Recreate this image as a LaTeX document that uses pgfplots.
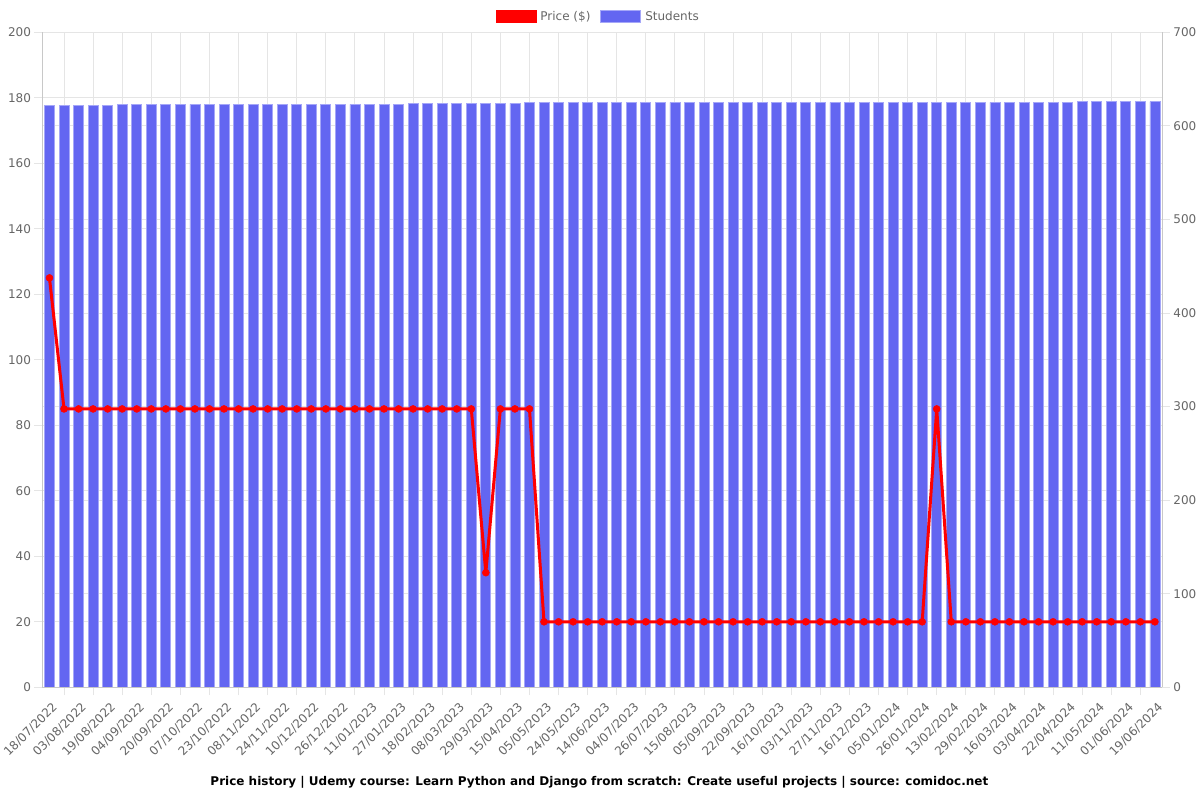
\documentclass[border=0pt]{standalone}
\usepackage{pgfplots}
\usepackage{pgfplotstable}
\pgfplotsset{compat=1.18}
\usepackage{fontspec}
\setmainfont{DejaVu Sans}
\definecolor{barblue}{RGB}{99,102,241}
\definecolor{barborder}{RGB}{165,167,248}
\definecolor{gridgray}{RGB}{229,229,229}
\definecolor{axisgray}{RGB}{200,200,200}
\definecolor{ticktext}{RGB}{102,102,102}
\newcommand\tickfont{\fontsize{12bp}{14bp}\selectfont}

\pgfplotstableread{
x price students
0 125 622
1 85 622
2 85 622
3 85 622
4 85 622
5 85 623
6 85 623
7 85 623
8 85 623
9 85 623
10 85 623
11 85 623
12 85 623
13 85 623
14 85 623
15 85 623
16 85 623
17 85 623
18 85 623
19 85 623
20 85 623
21 85 623
22 85 623
23 85 623
24 85 623
25 85 624
26 85 624
27 85 624
28 85 624
29 85 624
30 35 624
31 85 624
32 85 624
33 85 625
34 20 625
35 20 625
36 20 625
37 20 625
38 20 625
39 20 625
40 20 625
41 20 625
42 20 625
43 20 625
44 20 625
45 20 625
46 20 625
47 20 625
48 20 625
49 20 625
50 20 625
51 20 625
52 20 625
53 20 625
54 20 625
55 20 625
56 20 625
57 20 625
58 20 625
59 20 625
60 20 625
61 85 625
62 20 625
63 20 625
64 20 625
65 20 625
66 20 625
67 20 625
68 20 625
69 20 625
70 20 625
71 20 626
72 20 626
73 20 626
74 20 626
75 20 626
76 20 626
}\data

\pgfplotsset{
  common/.style={
    scale only axis, width=1120bp, height=655bp,
    xmin=-0.5, xmax=76.5,
    axis x line*=bottom,
    axis line style={axisgray, line width=1bp},
    tick align=outside, major tick length=8bp,
    tick style={gridgray, line width=1bp},
    tick label style={font=\tickfont, text=ticktext},
    /pgf/number format/assume math mode=true,
  }
}

\begin{document}
\begin{tikzpicture}
% Students (right axis), bars and grid
\begin{axis}[common,
  ymin=0, ymax=700,
  axis y line*=right,
  ytick={0,100,...,700},
  xtick={1,3,...,75}, xticklabels={},
  xmajorgrids, ymajorgrids,
  grid style={gridgray, line width=1bp},
  extra y ticks={70,140,210,280,350,420,490,560,630},
  extra y tick labels={},
  extra y tick style={grid=major, major tick length=0pt},
  yticklabel style={anchor=west, inner sep=0pt, xshift=3bp},
]
\addplot[ybar, bar width=10bp, fill=barblue, draw=barborder, line width=0.8bp]
  table[x=x, y=students] {\data};
\end{axis}
% Price (left axis), line
\begin{axis}[common,
  clip=false,
  ymin=0, ymax=200,
  axis y line*=left,
  ytick={0,20,...,200},
  xtick={0,2,...,76},
  xtick style={draw=none},
  xticklabels={18/07/2022,03/08/2022,19/08/2022,04/09/2022,20/09/2022,07/10/2022,23/10/2022,08/11/2022,24/11/2022,10/12/2022,26/12/2022,11/01/2023,27/01/2023,18/02/2023,08/03/2023,29/03/2023,15/04/2023,05/05/2023,24/05/2023,14/06/2023,04/07/2023,26/07/2023,15/08/2023,05/09/2023,22/09/2023,16/10/2023,03/11/2023,27/11/2023,16/12/2023,05/01/2024,26/01/2024,13/02/2024,29/02/2024,16/03/2024,03/04/2024,22/04/2024,11/05/2024,01/06/2024,19/06/2024},
  xticklabel style={inner sep=0pt, xshift=2bp, yshift=-6bp, rotate=45, anchor=north east},
  yticklabel style={anchor=east, inner sep=0pt, xshift=-3bp},
  legend style={at={(rel axis cs:0.4975,1.0244)}, anchor=center, draw=none, fill=none,
    legend columns=2, font=\tickfont, text=ticktext,
    nodes={inner xsep=4bp},
    /tikz/every even column/.append style={column sep=6bp}},
  legend cell align=left,
]
\addlegendimage{legend image code/.code={\fill[red] (0bp,-6bp) rectangle (40bp,6bp);}}
\addlegendentry{Price (\$)}
\addlegendimage{legend image code/.code={\filldraw[fill=barblue, draw=barborder, line width=0.8bp] (0bp,-6bp) rectangle (40bp,6bp);}}
\addlegendentry{Students}
\addplot[red, line width=3bp, mark=*, mark size=3.5bp, mark options={fill=red, draw=red, line width=0.5bp}]
  table[x=x, y=price] {\data};
\node[font=\fontsize{12bp}{14bp}\selectfont\bfseries, text=black] at (rel axis cs:0.4975,-0.145)
  {Price history | Udemy course: Learn Python and Django from scratch: Create useful projects | source: comidoc.net};
\end{axis}
\path[use as bounding box] (-42.2bp,-112.7bp) rectangle (1157.8bp,687.3bp);
\end{tikzpicture}
\end{document}
